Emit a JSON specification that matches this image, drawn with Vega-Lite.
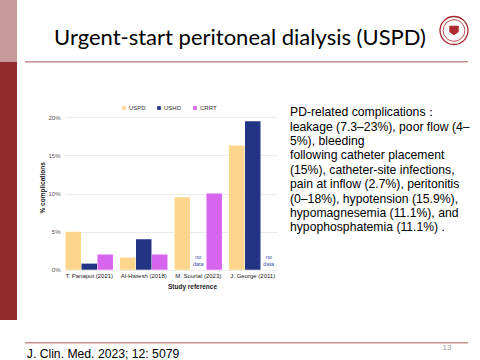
{
  "$schema": "https://vega.github.io/schema/vega-lite/v6.json",
  "padding": 0,
  "background": "white",
  "spacing": 8,
  "config": {"view": {"stroke": null}, "font": "Liberation Sans"},
  "hconcat": [
    {
      "spacing": 0,
      "vconcat": [
        {"width": 17, "height": 62, "data": {"values": [{"part": "sidebar top"}]}, "mark": {"type": "rect", "color": "#c99a9a"}, "encoding": {}},
        {"width": 17, "height": 258, "data": {"values": [{"part": "sidebar bottom"}]}, "mark": {"type": "rect", "color": "#922b2c"}, "encoding": {}}
      ]
    },
    {
      "spacing": 0,
      "vconcat": [
        {
          "spacing": 0,
          "hconcat": [
            {"width": 18, "height": 1, "data": {"values": [{"part": "spacer"}]}, "mark": {"type": "rect", "opacity": 0}, "encoding": {}},
            {
              "width": 394, "height": 56,
              "data": {"values": [{"heading": "Urgent-start peritoneal dialysis (USPD)"}]},
              "mark": {"type": "text", "font": "Lato", "fontSize": 22, "color": "#000000", "align": "center", "baseline": "top"},
              "encoding": {"text": {"field": "heading"}}
            },
            {
              "width": 30, "height": 61,
              "data": {"values": [{"part": "logo"}]},
              "layer": [
                {"mark": {"type": "point", "shape": "circle", "size": 784, "filled": false, "color": "#a3262a", "strokeWidth": 1.3, "opacity": 1}, "encoding": {}},
                {"mark": {"type": "point", "shape": "circle", "size": 470, "filled": false, "color": "#a3262a", "strokeWidth": 0.8, "opacity": 1}, "encoding": {}},
                {"mark": {"type": "point", "shape": "M-1,-1L1,-1L1,0.3L0,1L-1,0.3Z", "size": 90, "filled": true, "color": "#b02a2f", "opacity": 1}, "encoding": {}}
              ]
            }
          ]
        },
        {"width": 443, "height": 1.5, "data": {"values": [{"part": "header rule"}]}, "mark": {"type": "rect", "color": "#c48e8e"}, "encoding": {}},
        {"width": 1, "height": 41.8, "data": {"values": [{"part": "spacer"}]}, "mark": {"type": "rect", "opacity": 0}, "encoding": {}},
        {
          "spacing": 13,
          "resolve": {"scale": {"color": "independent"}, "legend": {"color": "independent"}},
          "hconcat": [
            {
              "spacing": 9,
              "resolve": {"scale": {"color": "independent"}, "legend": {"color": "independent"}},
              "hconcat": [
                {"width": 5, "height": 1, "data": {"values": [{"part": "spacer"}]}, "mark": {"type": "rect", "opacity": 0}, "encoding": {}},
                {
                  "width": 212, "height": 164.7,
                  "data": {"values": [
                    {"study": "T. Panaput (2021)", "type": "USPD", "pct": 5.0, "note": null},
                    {"study": "T. Panaput (2021)", "type": "USHD", "pct": 0.8, "note": null},
                    {"study": "T. Panaput (2021)", "type": "CRRT", "pct": 2.0, "note": null},
                    {"study": "Al-Hwiesh (2018)", "type": "USPD", "pct": 1.6, "note": null},
                    {"study": "Al-Hwiesh (2018)", "type": "USHD", "pct": 4.0, "note": null},
                    {"study": "Al-Hwiesh (2018)", "type": "CRRT", "pct": 2.0, "note": null},
                    {"study": "M. Sourial (2023)", "type": "USPD", "pct": 9.5, "note": null},
                    {"study": "M. Sourial (2023)", "type": "USHD", "pct": null, "note": "no\ndata"},
                    {"study": "M. Sourial (2023)", "type": "CRRT", "pct": 10.0, "note": null},
                    {"study": "J. George (2011)", "type": "USPD", "pct": 16.3, "note": null},
                    {"study": "J. George (2011)", "type": "USHD", "pct": 19.5, "note": null},
                    {"study": "J. George (2011)", "type": "CRRT", "pct": null, "note": "no\ndata"}
                  ]},
                  "encoding": {
                    "x": {
                      "field": "study", "type": "nominal", "sort": null,
                      "scale": {"paddingInner": 0.13, "paddingOuter": 0.01},
                      "axis": {"title": "Study reference", "labelAngle": 0, "labelFontSize": 6, "labelColor": "#222222", "labelPadding": 3, "ticks": false, "domain": false, "titleFontSize": 6.5, "titleFontWeight": "bold", "titleColor": "#222222", "titlePadding": 5, "titleX": 127}
                    },
                    "xOffset": {"field": "type", "type": "nominal", "scale": {"domain": ["USPD", "USHD", "CRRT"], "paddingInner": 0.03}}
                  },
                  "layer": [
                    {
                      "mark": {"type": "bar"},
                      "encoding": {
                        "y": {
                          "field": "pct", "type": "quantitative",
                          "scale": {"domain": [0, 21.63], "nice": false},
                          "axis": {"title": "% complications", "values": [0, 5, 10, 15, 20], "labelExpr": "datum.value + '%'", "ticks": false, "domain": false, "labelFontSize": 6, "labelColor": "#555555", "labelPadding": 5, "gridColor": "#ebebeb", "titleFontSize": 6.5, "titleFontWeight": "bold", "titleColor": "#222222", "titlePadding": 2}
                        },
                        "color": {
                          "field": "type", "type": "nominal",
                          "scale": {"domain": ["USPD", "USHD", "CRRT"], "range": ["#fdd68b", "#233484", "#d865ee"]},
                          "legend": {"title": null, "orient": "none", "legendX": 56, "legendY": 0, "direction": "horizontal", "symbolType": "square", "symbolSize": 14, "labelFontSize": 6, "labelColor": "#333333", "columnPadding": 10, "labelOffset": 2}
                        }
                      }
                    },
                    {
                      "transform": [{"filter": "datum.pct === null"}],
                      "mark": {"type": "text", "lineBreak": "\n", "fontSize": 5.5, "lineHeight": 7, "color": "#3c4aa8", "baseline": "middle"},
                      "encoding": {"y": {"datum": 1.7, "type": "quantitative"}, "text": {"field": "note"}}
                    }
                  ]
                }
              ]
            },
            {
              "width": 180, "height": 129.6,
              "data": {"values": [
                {"line": 1, "text": "PD-related complications："},
                {"line": 2, "text": "leakage (7.3–23%), poor flow (4–"},
                {"line": 3, "text": "5%), bleeding"},
                {"line": 4, "text": "following catheter placement"},
                {"line": 5, "text": "(15%), catheter-site infections,"},
                {"line": 6, "text": "pain at inflow (2.7%), peritonitis"},
                {"line": 7, "text": "(0–18%), hypotension (15.9%),"},
                {"line": 8, "text": "hypomagnesemia (11.1%), and"},
                {"line": 9, "text": "hypophosphatemia (11.1%) ."}
              ]},
              "mark": {"type": "text", "align": "left", "baseline": "middle", "fontSize": 12.2, "font": "Liberation Sans", "color": "#000000"},
              "encoding": {
                "y": {"field": "line", "type": "ordinal", "axis": null},
                "x": {"datum": 0, "type": "quantitative", "scale": {"domain": [0, 1]}, "axis": null},
                "text": {"field": "text"}
              }
            }
          ]
        },
        {"width": 1, "height": 50.5, "data": {"values": [{"part": "spacer"}]}, "mark": {"type": "rect", "opacity": 0}, "encoding": {}},
        {"width": 443, "height": 1.5, "data": {"values": [{"part": "footer rule"}]}, "mark": {"type": "rect", "color": "#c48e8e"}, "encoding": {}},
        {
          "spacing": 0,
          "hconcat": [
            {
              "width": 156, "height": 25,
              "data": {"values": [{"citation": "J. Clin. Med. 2023; 12: 5079"}]},
              "mark": {"type": "text", "font": "Liberation Sans", "fontSize": 12.2, "color": "#000000", "align": "center", "baseline": "alphabetic"},
              "encoding": {"text": {"field": "citation"}}
            },
            {"width": 258, "height": 1, "data": {"values": [{"part": "spacer"}]}, "mark": {"type": "rect", "opacity": 0}, "encoding": {}},
            {
              "width": 16, "height": 6,
              "data": {"values": [{"page": "13"}]},
              "mark": {"type": "text", "font": "Liberation Sans", "fontSize": 8, "color": "#999999", "align": "center", "baseline": "middle"},
              "encoding": {"text": {"field": "page"}}
            }
          ]
        }
      ]
    }
  ]
}
